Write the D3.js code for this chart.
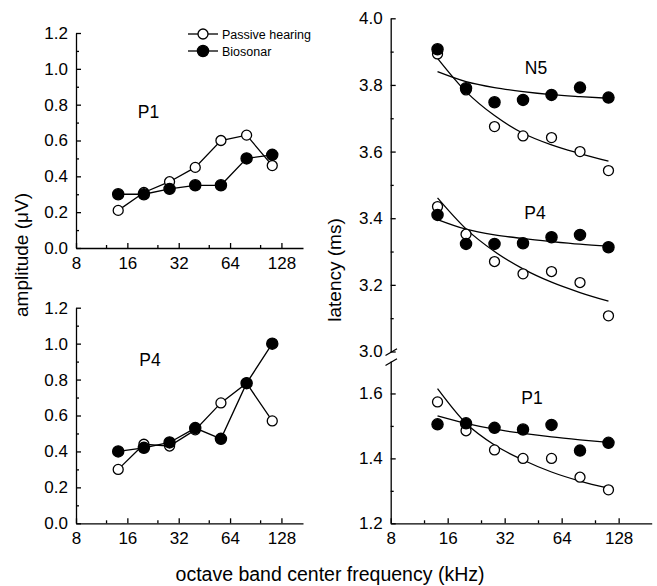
<!DOCTYPE html>
<html>
<head>
<meta charset="utf-8">
<script src="https://cdn.jsdelivr.net/npm/d3@7"></script>
<style>
  html, body { margin: 0; padding: 0; background: #fff; }
  svg { display: block; font-family: "Liberation Sans", Arial, sans-serif; }
</style>
</head>
<body>
<svg id="chart" width="657" height="586"></svg>
<script>
// ---------------- data ----------------
const freqs = [14.14, 20, 28.28, 40, 56.57, 80, 113.1];
const xTicks = [8, 16, 32, 64, 128];
const xMinorTicks = [12, 24, 48, 96];
const ampTicks = [0, 0.2, 0.4, 0.6, 0.8, 1.0, 1.2];
const ampMinorTicks = [0.1, 0.3, 0.5, 0.7, 0.9, 1.1];
const latUpperTicks = [3.0, 3.2, 3.4, 3.6, 3.8, 4.0];
const latUpperMinor = [3.1, 3.3, 3.5, 3.7, 3.9];
const latLowerTicks = [1.2, 1.4, 1.6];
const latLowerMinor = [1.3, 1.5];

const seriesNames = ["Passive hearing", "Biosonar"];

// amplitude (µV)
const ampP1Passive = [0.21, 0.31, 0.37, 0.45, 0.60, 0.63, 0.46];
const ampP1Bio     = [0.30, 0.30, 0.33, 0.35, 0.35, 0.50, 0.52];
const ampP4Passive = [0.30, 0.44, 0.43, 0.52, 0.67, 0.78, 0.57];
const ampP4Bio     = [0.40, 0.42, 0.45, 0.53, 0.47, 0.78, 1.00];

// latency (ms)
const latN5Passive = [3.893, 3.785, 3.675, 3.647, 3.642, 3.600, 3.543];
const latN5Bio     = [3.907, 3.790, 3.748, 3.755, 3.770, 3.792, 3.762];
const latP4Passive = [3.435, 3.352, 3.270, 3.233, 3.240, 3.207, 3.107];
const latP4Bio     = [3.410, 3.323, 3.323, 3.325, 3.343, 3.350, 3.313];
const latP1Passive = [1.574, 1.485, 1.426, 1.400, 1.400, 1.342, 1.303];
const latP1Bio     = [1.505, 1.508, 1.494, 1.489, 1.503, 1.424, 1.448];

// fitted curves (at each frequency)
const fitN5Passive = [3.880, 3.780, 3.708, 3.655, 3.620, 3.594, 3.571];
const fitN5Bio     = [3.840, 3.810, 3.792, 3.780, 3.771, 3.765, 3.760];
const fitP4Passive = [3.461, 3.368, 3.300, 3.248, 3.208, 3.177, 3.151];
const fitP4Bio     = [3.396, 3.367, 3.350, 3.339, 3.330, 3.322, 3.316];
const fitP1Passive = [1.615, 1.508, 1.441, 1.395, 1.358, 1.330, 1.308];
const fitP1Bio     = [1.531, 1.508, 1.490, 1.477, 1.466, 1.457, 1.449];

// ---------------- drawing ----------------
const svg = d3.select("#chart");
svg.append("rect").attr("width", 657).attr("height", 586).attr("fill", "#fff");

const STROKE = 1.3;
const R_OPEN = 5, R_FILL = 5.6;
const TICK_FONT = 17;

const xLeft = d3.scaleLog().base(2).domain([8, 8 * Math.pow(2, 4.42)]).range([76, 303]);
const xRight = d3.scaleLog().base(2).domain([8, 8 * Math.pow(2, 4.58)]).range([390.7, 651.7]);

const yAmpTop = d3.scaleLinear().domain([0, 1.2]).range([248, 33]);
const yAmpBot = d3.scaleLinear().domain([0, 1.2]).range([523.3, 307.7]);
const yLatUp = d3.scaleLinear().domain([3.0, 4.0]).range([351.5, 18.3]);
const yLatLow = d3.scaleLinear().domain([1.2, 1.7]).range([523.3, 361]);

function styleAxis(g) {
  g.selectAll("path").attr("stroke", "#000").attr("stroke-width", STROKE);
  g.selectAll("line").attr("stroke", "#000").attr("stroke-width", STROKE);
  g.selectAll("text").attr("font-size", TICK_FONT).attr("fill", "#000")
    .attr("font-family", "Liberation Sans, Arial, sans-serif");
}

function xAxis(x, yPos) {
  const g = svg.append("g").attr("transform", `translate(0,${yPos})`);
  g.call(d3.axisBottom(x).tickValues(xTicks).tickFormat(d3.format("d"))
    .tickSizeInner(-5).tickSizeOuter(0).tickPadding(9));
  styleAxis(g);
  const gm = svg.append("g").attr("transform", `translate(0,${yPos})`);
  gm.call(d3.axisBottom(x).tickValues(xMinorTicks.filter(v => v <= x.domain()[1]))
    .tickFormat("").tickSizeInner(-3).tickSizeOuter(0));
  gm.select("path").remove();
  styleAxis(gm);
}

function yAxis(y, xPos, ticks, minor, fmt) {
  const g = svg.append("g").attr("transform", `translate(${xPos},0)`);
  g.call(d3.axisLeft(y).tickValues(ticks).tickFormat(d3.format(fmt))
    .tickSizeInner(-5).tickSizeOuter(0).tickPadding(8));
  styleAxis(g);
  const gm = svg.append("g").attr("transform", `translate(${xPos},0)`);
  gm.call(d3.axisLeft(y).tickValues(minor).tickFormat("").tickSizeInner(-3).tickSizeOuter(0));
  gm.select("path").remove();
  styleAxis(gm);
}

// axes left panels
xAxis(xLeft, 248);
yAxis(yAmpTop, 76, ampTicks, ampMinorTicks, ".1f");
xAxis(xLeft, 523.3);
yAxis(yAmpBot, 76, ampTicks, ampMinorTicks, ".1f");

// axes right panel
xAxis(xRight, 523.3);
yAxis(yLatUp, 390.7, latUpperTicks, latUpperMinor, ".1f");
yAxis(yLatLow, 390.7, latLowerTicks, latLowerMinor, ".1f");

// break marks
[[355, 349.3], [365, 359.3]].forEach(([y1, y2]) => {
  svg.append("line").attr("x1", 385.5).attr("y1", y1 + 0.5).attr("x2", 397).attr("y2", y2 - 0.5)
    .attr("stroke", "#000").attr("stroke-width", STROKE);
});

function connected(x, y, vals) {
  const pts = freqs.map((f, i) => [x(f), y(vals[i])]);
  svg.append("path").attr("d", d3.line()(pts)).attr("fill", "none")
    .attr("stroke", "#000").attr("stroke-width", STROKE);
}
function dots(x, y, vals, filled) {
  svg.append("g").selectAll("circle").data(vals).join("circle")
    .attr("cx", (d, i) => x(freqs[i])).attr("cy", d => y(d))
    .attr("r", filled ? R_FILL : R_OPEN)
    .attr("fill", filled ? "#000" : "#fff")
    .attr("stroke", "#000").attr("stroke-width", STROKE);
}
function fitCurve(x, y, vals) {
  const pts = freqs.map((f, i) => [x(f), y(vals[i])]);
  svg.append("path").attr("d", d3.line().curve(d3.curveMonotoneX)(pts)).attr("fill", "none")
    .attr("stroke", "#000").attr("stroke-width", STROKE);
}

// top-left P1
connected(xLeft, yAmpTop, ampP1Passive);
connected(xLeft, yAmpTop, ampP1Bio);
dots(xLeft, yAmpTop, ampP1Passive, false);
dots(xLeft, yAmpTop, ampP1Bio, true);
// bottom-left P4
connected(xLeft, yAmpBot, ampP4Passive);
connected(xLeft, yAmpBot, ampP4Bio);
dots(xLeft, yAmpBot, ampP4Passive, false);
dots(xLeft, yAmpBot, ampP4Bio, true);

// right panel
fitCurve(xRight, yLatUp, fitN5Passive);
fitCurve(xRight, yLatUp, fitN5Bio);
fitCurve(xRight, yLatUp, fitP4Passive);
fitCurve(xRight, yLatUp, fitP4Bio);
fitCurve(xRight, yLatLow, fitP1Passive);
fitCurve(xRight, yLatLow, fitP1Bio);
dots(xRight, yLatUp, latN5Passive, false);
dots(xRight, yLatUp, latN5Bio, true);
dots(xRight, yLatUp, latP4Passive, false);
dots(xRight, yLatUp, latP4Bio, true);
dots(xRight, yLatLow, latP1Passive, false);
dots(xRight, yLatLow, latP1Bio, true);

// panel labels
function label(txt, x, y, size) {
  svg.append("text").attr("x", x).attr("y", y).attr("font-size", size)
    .attr("text-anchor", "middle").attr("fill", "#000").text(txt);
}
label("P1", 148.5, 117.5, 17.5);
label("P4", 150, 366, 17.5);
label("N5", 536, 74, 17.5);
label("P4", 535, 219, 17.5);
label("P1", 532, 404, 17.5);

// legend
seriesNames.forEach((name, i) => {
  const ly = 34 + i * 17;
  const g = svg.append("g");
  g.append("line").attr("x1", 188).attr("x2", 218).attr("y1", ly).attr("y2", ly)
    .attr("stroke", "#000").attr("stroke-width", STROKE);
  g.append("circle").attr("cx", 203).attr("cy", ly).attr("r", i === 0 ? R_OPEN : R_FILL)
    .attr("fill", i === 0 ? "#fff" : "#000").attr("stroke", "#000").attr("stroke-width", STROKE);
  g.append("text").attr("x", 222).attr("y", ly + 4.5).attr("font-size", 12.5).attr("fill", "#000").text(name);
});

// axis titles
svg.append("text").attr("transform", "translate(28,255) rotate(-90)")
  .attr("text-anchor", "middle").attr("font-size", 19).attr("fill", "#000").text("amplitude (μV)");
svg.append("text").attr("transform", "translate(341,270) rotate(-90)")
  .attr("text-anchor", "middle").attr("font-size", 19).attr("fill", "#000").text("latency (ms)");
svg.append("text").attr("x", 330).attr("y", 581)
  .attr("text-anchor", "middle").attr("font-size", 19.5).attr("fill", "#000").text("octave band center frequency (kHz)");
</script>
</body>
</html>
